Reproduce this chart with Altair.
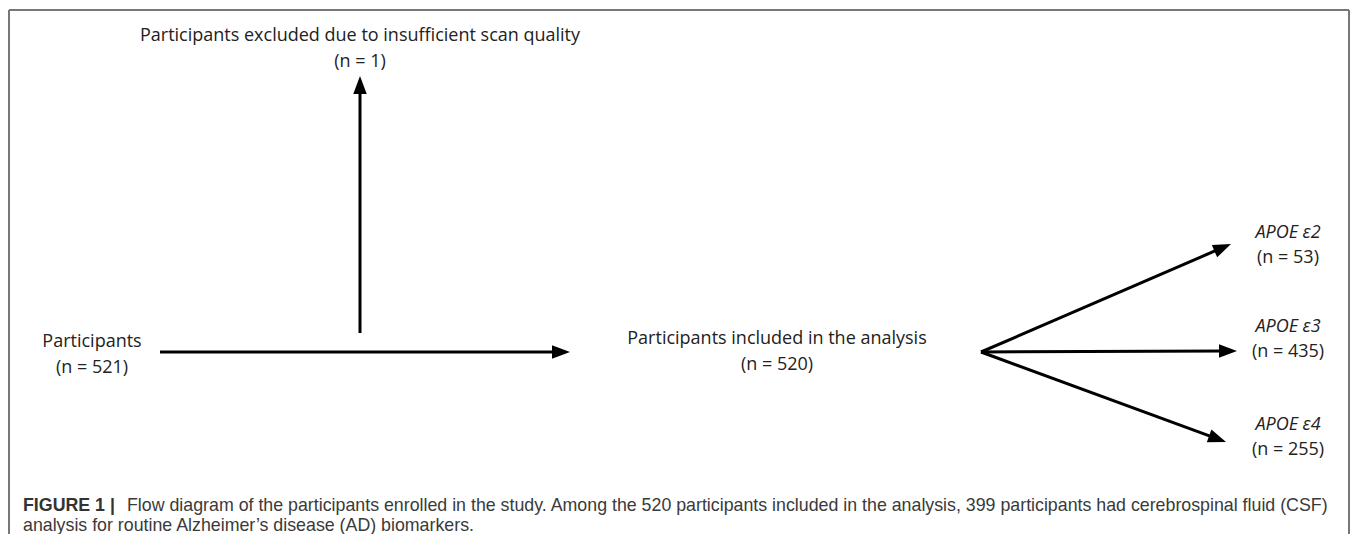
import math
import altair as alt
import pandas as pd

# ---- diagram content ----
node_text = ["Participants excluded due to insufficient scan quality",
             "Participants",
             "Participants included in the analysis"]
node_n = [1, 521, 520]

group_text = ["APOE ε2", "APOE ε3", "APOE ε4"]
group_n = [53, 435, 255]

caption_bold = "FIGURE 1 |"
caption_line1 = ("Flow diagram of the participants enrolled in the study. Among the 520 participants "
                 "included in the analysis, 399 participants had cerebrospinal fluid (CSF)")
caption_line2 = "analysis for routine Alzheimer’s disease (AD) biomarkers."

# ---- layout (page pixel coordinates) ----
node_x = [360, 92, 777]
node_y = [36, 342, 339]
group_x = [1288, 1288, 1288]
group_y = [233, 327, 425]
arrow_x0 = [360, 160, 981, 981, 981]
arrow_y0 = [333, 352, 352, 352, 352]
arrow_x1 = [360, 570, 1231, 1237, 1226]
arrow_y1 = [76, 352, 244, 351, 442]

W, H = 1342, 526
LINE = 26
HEAD = 18

xs = alt.Scale(domain=[8, 8 + W], nice=False, zero=False)
ys = alt.Scale(domain=[8, 8 + H], nice=False, zero=False, reverse=True)

def X(f):
    return alt.X(f, type="quantitative", scale=xs, axis=None)

def Y(f):
    return alt.Y(f, type="quantitative", scale=ys, axis=None)

# text tables
rows = []
for t, n, x, y in zip(node_text, node_n, node_x, node_y):
    rows.append({"x": x, "y": y, "t": t})
    rows.append({"x": x, "y": y + LINE, "t": f"(n = {n})"})
grp_rows = []
for t, n, x, y in zip(group_text, group_n, group_x, group_y):
    grp_rows.append({"x": x, "y": y, "t": t, "it": True})
    grp_rows.append({"x": x, "y": y + 25, "t": f"(n = {n})", "it": False})
text_df = pd.DataFrame(rows + [r for r in grp_rows if not r["it"]])
ital_df = pd.DataFrame([r for r in grp_rows if r["it"]])

# arrows
shaft, heads = [], []
for x0, y0, x1, y1 in zip(arrow_x0, arrow_y0, arrow_x1, arrow_y1):
    dx, dy = x1 - x0, y1 - y0
    L = math.hypot(dx, dy)
    ux, uy = dx / L, dy / L
    shaft.append({"x": x0, "y": y0, "x2": x1 - ux * HEAD * 0.7, "y2": y1 - uy * HEAD * 0.7})
    ang = math.degrees(math.atan2(dx, -dy)) % 360
    heads.append({"x": x1 - ux * HEAD / 2, "y": y1 - uy * HEAD / 2, "a": ang})
shaft_df = pd.DataFrame(shaft)
head_df = pd.DataFrame(heads)

cap_df = pd.DataFrame([
    {"x": 23, "y": 506, "t": caption_bold},
])
cap2_df = pd.DataFrame([
    {"x": 127, "y": 506, "t": caption_line1},
    {"x": 23, "y": 526, "t": caption_line2},
])

DFONT = "Open Sans"
DSIZE = 18
CSIZE = 17.8
dtext = alt.Chart(text_df).mark_text(font=DFONT, fontSize=DSIZE, color="#222222",
                                     align="center", baseline="middle").encode(
    x=X("x"), y=Y("y"), text="t:N")
itext = alt.Chart(ital_df).mark_text(font=DFONT, fontSize=DSIZE, color="#222222", fontStyle="italic",
                                     align="center", baseline="middle").encode(
    x=X("x"), y=Y("y"), text="t:N")
shafts = alt.Chart(shaft_df).mark_rule(color="black", strokeWidth=3).encode(
    x=X("x"), y=Y("y"), x2="x2:Q", y2="y2:Q")
arrowheads = alt.Chart(head_df).mark_point(
    shape="M0,-1L-0.75,1L0.75,1Z", filled=True, color="black", opacity=1,
    size=HEAD * HEAD, strokeWidth=0).encode(
    x=X("x"), y=Y("y"), angle=alt.Angle("a:Q", scale=None))
capb = alt.Chart(cap_df).mark_text(font="Liberation Sans", fontSize=CSIZE, fontWeight="bold",
                                   color="#333333", align="left", baseline="middle").encode(
    x=X("x"), y=Y("y"), text="t:N")
capt = alt.Chart(cap2_df).mark_text(font="Liberation Sans", fontSize=CSIZE,
                                    color="#3a3a3a", align="left", baseline="middle").encode(
    x=X("x"), y=Y("y"), text="t:N")

one = pd.DataFrame({"k": [0]})
frame_color = "#777777"
top = alt.Chart(one).mark_rule(color=frame_color, strokeWidth=2).encode(
    x=alt.value(1), x2=alt.value(W - 1), y=alt.value(2))
left = alt.Chart(one).mark_rule(color=frame_color, strokeWidth=2).encode(
    x=alt.value(1), y=alt.value(2), y2=alt.value(H))
right = alt.Chart(one).mark_rule(color=frame_color, strokeWidth=2).encode(
    x=alt.value(W - 1), y=alt.value(2), y2=alt.value(H))

chart = alt.layer(top, left, right, shafts, arrowheads, dtext, itext, capb, capt).properties(
    width=W, height=H, padding=0, autosize=alt.AutoSizeParams(type="none"),
    background="white"
).configure_view(stroke=None)

chart.save("out.html", embed_options={"renderer": "svg", "actions": False})
